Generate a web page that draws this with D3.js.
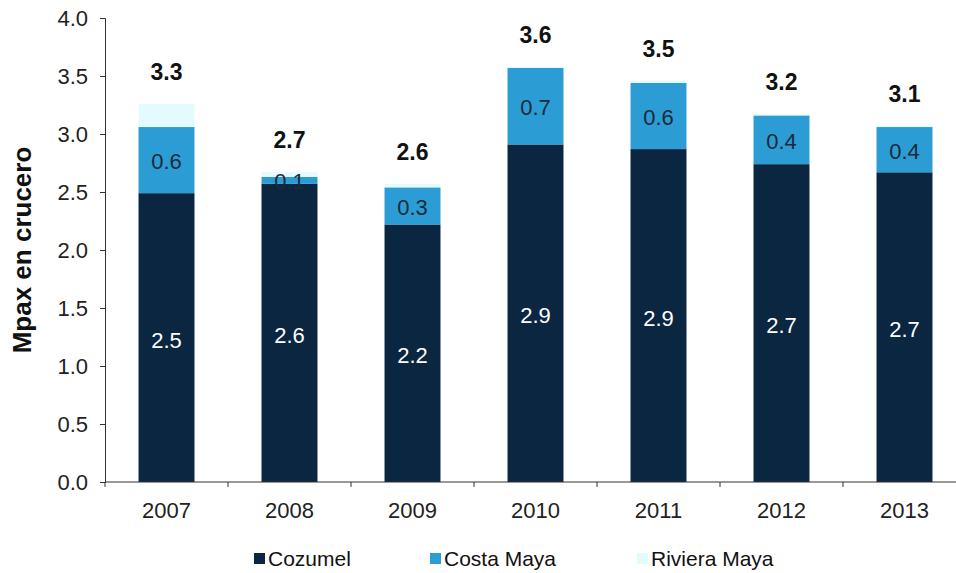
<!DOCTYPE html>
<html>
<head>
<meta charset="utf-8">
<script src="https://cdn.jsdelivr.net/npm/d3@7"></script>
<style>
  body { margin: 0; background: #fff; }
  svg { font-family: "Liberation Sans", Arial, sans-serif; }
</style>
</head>
<body>
<div id="app"></div>
<script>
const years = ['2007', '2008', '2009', '2010', '2011', '2012', '2013'];
const cozumel = [2.49, 2.57, 2.22, 2.91, 2.87, 2.74, 2.67];
const costaMaya = [0.57, 0.06, 0.32, 0.66, 0.57, 0.42, 0.39];
const rivieraMaya = [0.20, 0.04, 0.03, 0.01, 0.02, 0.01, 0.01];
const seriesNames = ['Cozumel', 'Costa Maya', 'Riviera Maya'];
const yTicks = [0, 0.5, 1, 1.5, 2, 2.5, 3, 3.5, 4];

const colors = ['#0b2641', '#2c9cd4', '#e4fafc'];

const width = 956, height = 573;
const margin = { top: 18, right: -10, bottom: 91, left: 105 };

const svg = d3.select('#app').append('svg')
  .attr('width', width)
  .attr('height', height);

const x = d3.scaleBand()
  .domain(years)
  .range([margin.left, width - margin.right])
  .paddingInner(0.545)
  .paddingOuter(0.2725);

const y = d3.scaleLinear()
  .domain([0, 4])
  .range([height - margin.bottom, margin.top]);

const rows = years.map((yr, i) => ({
  year: yr,
  Cozumel: cozumel[i],
  'Costa Maya': costaMaya[i],
  'Riviera Maya': rivieraMaya[i]
}));

const stacked = d3.stack().keys(seriesNames)(rows);

// y axis
const gy = svg.append('g')
  .attr('transform', 'translate(' + margin.left + ',0)')
  .call(d3.axisLeft(y).tickValues(yTicks).tickFormat(d3.format('.1f')).tickSize(5).tickPadding(12));
gy.select('.domain').attr('stroke', '#333');
gy.selectAll('.tick line').attr('stroke', '#333');
gy.selectAll('.tick text')
  .attr('font-size', 22)
  .attr('font-family', '"Liberation Sans", Arial, sans-serif')
  .attr('fill', '#222');

svg.append('text')
  .attr('transform', 'translate(31,' + ((y(0) + y(4)) / 2) + ') rotate(-90)')
  .attr('text-anchor', 'middle')
  .attr('font-size', 26)
  .attr('font-weight', 'bold')
  .attr('fill', '#111')
  .text('Mpax en crucero');

// bars
const layers = svg.selectAll('.layer')
  .data(stacked)
  .enter()
  .append('g')
  .attr('fill', (d, i) => colors[i]);

layers.selectAll('rect')
  .data(d => d)
  .enter()
  .append('rect')
  .attr('x', d => x(d.data.year))
  .attr('width', x.bandwidth())
  .attr('y', d => y(d[1]))
  .attr('height', d => y(d[0]) - y(d[1]));

// x axis
const x0 = y(0);
svg.append('line')
  .attr('x1', margin.left).attr('x2', width)
  .attr('y1', x0).attr('y2', x0)
  .attr('stroke', '#333');

const step = x.step();
years.forEach((yr, i) => {
  const bx = margin.left + step * i;
  svg.append('line')
    .attr('x1', bx).attr('x2', bx)
    .attr('y1', x0).attr('y2', x0 + 5)
    .attr('stroke', '#333');
});

svg.selectAll('.xlabel')
  .data(years)
  .enter()
  .append('text')
  .attr('x', d => x(d) + x.bandwidth() / 2)
  .attr('y', x0 + 36)
  .attr('text-anchor', 'middle')
  .attr('font-size', 22)
  .attr('fill', '#222')
  .text(d => d);

// segment labels
const fmt = d3.format('.1f');
svg.selectAll('.lab-coz')
  .data(stacked[0])
  .enter()
  .append('text')
  .attr('x', d => x(d.data.year) + x.bandwidth() / 2)
  .attr('y', d => (y(d[0]) + y(d[1])) / 2 + 10)
  .attr('text-anchor', 'middle')
  .attr('font-size', 22)
  .attr('fill', '#fff')
  .text(d => fmt(d[1] - d[0]));

svg.selectAll('.lab-cm')
  .data(stacked[1])
  .enter()
  .append('text')
  .attr('x', d => x(d.data.year) + x.bandwidth() / 2)
  .attr('y', d => Math.max((y(d[0]) + y(d[1])) / 2 + 9, y(d[1]) + 8))
  .attr('text-anchor', 'middle')
  .attr('font-size', 22)
  .attr('fill', '#1c2b3a')
  .text(d => fmt(d[1] - d[0]));

// totals
svg.selectAll('.total')
  .data(stacked[2])
  .enter()
  .append('text')
  .attr('x', d => x(d.data.year) + x.bandwidth() / 2)
  .attr('y', d => y(d[1]) - 24)
  .attr('text-anchor', 'middle')
  .attr('font-size', 23)
  .attr('font-weight', 'bold')
  .attr('fill', '#111')
  .text(d => fmt(d[1]));

// legend
const legendX = [254, 430, 637];
const legend = svg.selectAll('.legend')
  .data(seriesNames)
  .enter()
  .append('g')
  .attr('transform', (d, i) => 'translate(' + legendX[i] + ',559)');

legend.append('rect')
  .attr('x', 0).attr('y', -6)
  .attr('width', 11).attr('height', 11)
  .attr('fill', (d, i) => colors[i]);

legend.append('text')
  .attr('x', 14)
  .attr('y', 7)
  .attr('font-size', 21)
  .attr('fill', '#111')
  .text(d => d);
</script>
</body>
</html>
